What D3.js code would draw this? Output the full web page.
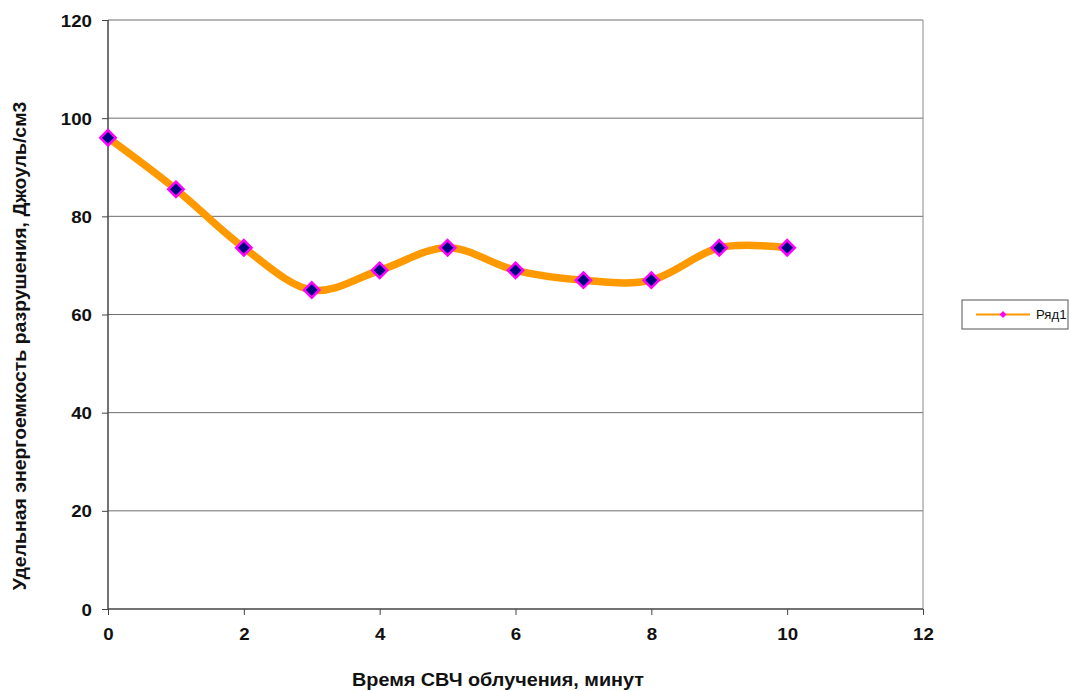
<!DOCTYPE html>
<html><head><meta charset="utf-8">
<script src="https://cdn.jsdelivr.net/npm/d3@7"></script>
<style>body{margin:0;background:#fff}text{font-family:Arial,"Liberation Sans",sans-serif}</style>
</head><body><svg id="c" width="1070" height="691"></svg>
<script>
const xValues = [0,1,2,3,4,5,6,7,8,9,10];
const seriesValues = [96,85.5,73.6,65,69,73.6,69,67,67,73.6,73.6];
const seriesName = "Ряд1";
const xTicks = [0,2,4,6,8,10,12];
const yTicks = [0,20,40,60,80,100,120];
const xTitle = "Время СВЧ облучения, минут";
const yTitle = "Удельная энергоемкость разрушения, Джоуль/см3";

const svg = d3.select("#c");
const L=108,R=923,T=20,B=609;
const SX=1.1;
const x = d3.scaleLinear().domain([0,12]).range([L,R]);
const y = d3.scaleLinear().domain([0,120]).range([B,T]);

// gridlines
svg.append("g").selectAll("line").data(yTicks.filter(d=>d>0)).join("line")
  .attr("x1",L).attr("x2",R).attr("y1",d=>y(d)).attr("y2",d=>y(d))
  .attr("stroke","#6e6e6e").attr("stroke-width",1);
// right border
svg.append("line").attr("x1",R).attr("x2",R).attr("y1",T).attr("y2",B).attr("stroke","#8a8a8a");

// axes
const ya = svg.append("g").attr("transform",`translate(${L},0)`)
  .call(d3.axisLeft(y).tickValues(yTicks).tickSize(6).tickPadding(10));
const xa = svg.append("g").attr("transform",`translate(0,${B})`)
  .call(d3.axisBottom(x).tickValues(xTicks).tickSize(6).tickPadding(13));
[ya,xa].forEach(a=>{
  a.attr("font-size",17).attr("font-family","Arial, 'Liberation Sans', sans-serif");
  a.select(".domain").attr("stroke","#444").attr("stroke-width",1.5);
  a.selectAll(".tick line").attr("stroke","#444");
  a.selectAll(".tick text").attr("font-size",17).attr("font-weight","bold").attr("fill","#111")
   .each(function(){
     const t=d3.select(this); const xv=+t.attr("x")||0;
     t.attr("x",xv/SX).attr("transform",`scale(${SX},1)`);
   });
});
ya.selectAll(".tick text").attr("dy","0.36em");
xa.select(".domain").attr("d",`M${L},0H${R}`);
ya.select(".domain").attr("d",`M0,${B}V${T}`);

// line
const data = xValues.map((d,i)=>({x:d,y:seriesValues[i]}));
svg.append("path").datum(data)
  .attr("d",d3.line().x(d=>x(d.x)).y(d=>y(d.y)).curve(d3.curveCardinal.tension(0)))
  .attr("fill","none").attr("stroke","#FF9900").attr("stroke-width",7.5);
const sym = d3.symbol().type(d3.symbolDiamond2).size(150);
svg.append("g").selectAll("path").data(data).join("path")
  .attr("transform",d=>`translate(${x(d.x)},${y(d.y)})`).attr("d",sym)
  .attr("fill","#000080").attr("stroke","#FF00FF").attr("stroke-width",2.5);

// titles
svg.append("text").attr("transform",`translate(498,686) scale(1.1,1)`).attr("text-anchor","middle")
  .attr("font-size",18).attr("font-weight","bold").attr("fill","#111").text(xTitle);
svg.append("text").attr("transform",`translate(26,346) rotate(-90) scale(1.08,1)`).attr("text-anchor","middle")
  .attr("font-size",18).attr("font-weight","bold").attr("fill","#111").text(yTitle);

// legend
const lg = svg.append("g").attr("transform","translate(962,300)");
lg.append("rect").attr("width",106).attr("height",29).attr("fill","#fff").attr("stroke","#555");
lg.append("line").attr("x1",14).attr("x2",68).attr("y1",14.5).attr("y2",14.5).attr("stroke","#FF9900").attr("stroke-width",2);
lg.append("path").attr("transform","translate(41,14.5)").attr("d",d3.symbol().type(d3.symbolDiamond2).size(30)).attr("fill","#FF00FF");
lg.append("text").attr("transform","translate(74,19) scale(1.1,1)").attr("font-size",12).attr("fill","#111").text(seriesName);
</script></body></html>
